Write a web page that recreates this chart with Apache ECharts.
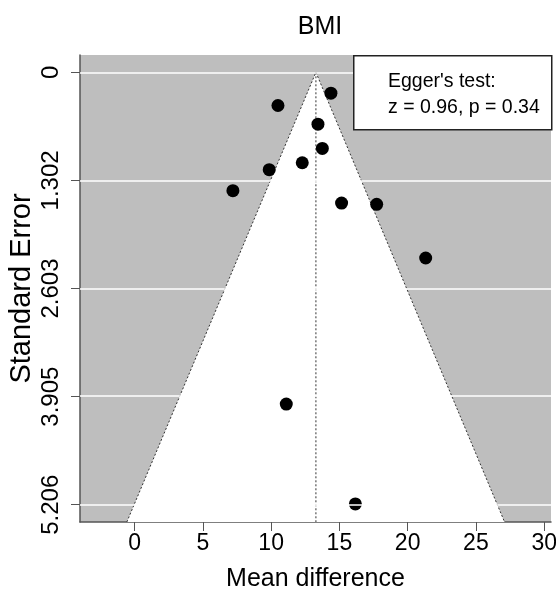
<!DOCTYPE html>
<html>
<head>
<meta charset="utf-8">
<script src="https://cdn.jsdelivr.net/npm/echarts@6/dist/echarts.min.js"></script>
<style>
  html, body { margin: 0; padding: 0; background: #fff; }
  #main { width: 556px; height: 589px; }
</style>
</head>
<body>
<div id="main"></div>
<script>
// study estimates (mean difference) and their standard errors
const meanDiff = [14.38, 10.50, 13.43, 13.75, 12.28, 9.86, 7.20, 15.16, 17.73, 21.32, 11.11, 16.17];
const stdErr = [0.252, 0.400, 0.625, 0.917, 1.089, 1.173, 1.425, 1.575, 1.590, 2.236, 3.994, 5.196];

// pooled estimate and funnel outline (left bottom, apex, right bottom)
const pooled = 13.28;
const funnelX = [-0.57, 13.28, 27.1];
const funnelY = [5.414, 0, 5.414];

// axis ticks
const xTicks = [0, 5, 10, 15, 20, 25, 30];
const yTicks = [0, 1.302, 2.603, 3.905, 5.206];
const yTickLabels = ["0", "1.302", "2.603", "3.905", "5.206"];

const font = "'Liberation Sans', Arial, sans-serif";
const chart = echarts.init(document.getElementById("main"));

const option = {
  animation: false,
  textStyle: { fontFamily: font },
  title: {
    text: "BMI",
    left: 315,
    textAlign: "center",
    top: 10,
    textStyle: { fontSize: 25, fontWeight: "normal", color: "#000", fontFamily: font },
  },
  grid: {
    left: 80,
    top: 55,
    right: 5,
    bottom: 67,
    outerBoundsMode: "none",
    containLabel: false,
    show: true,
    backgroundColor: "#bebebe",
    borderWidth: 0,
  },
  xAxis: {
    type: "value",
    min: -4,
    max: 30.5,
    name: "Mean difference",
    nameLocation: "middle",
    nameGap: 45,
    nameTextStyle: { fontSize: 25, color: "#000", fontFamily: font },
    axisLine: { show: true, onZero: false, lineStyle: { color: "#555", width: 1.5 } },
    axisTick: { show: true, length: 9, customValues: xTicks, lineStyle: { color: "#555" } },
    axisLabel: { customValues: xTicks, fontSize: 23, color: "#000", margin: 10, fontFamily: font },
    splitLine: { show: false },
  },
  yAxis: {
    type: "value",
    inverse: true,
    min: -0.208,
    max: 5.414,
    name: "Standard Error",
    nameLocation: "middle",
    nameRotate: 90,
    nameGap: 44,
    nameMoveOverlap: false,
    nameTextStyle: { fontSize: 29, color: "#000", fontFamily: font },
    axisLine: { show: true, onZero: false, lineStyle: { color: "#555", width: 1.5 } },
    axisTick: { show: true, length: 9, customValues: yTicks, lineStyle: { color: "#555" } },
    axisLabel: {
      customValues: yTicks,
      rotate: 90,
      fontSize: 24,
      color: "#000",
      margin: 17,
      fontFamily: font,
      formatter: (v) => yTickLabels[yTicks.findIndex((t) => Math.abs(t - v) < 1e-6)],
    },
    splitLine: { show: false },
  },
  series: [
    {
      // white reference lines at the tick positions
      type: "line",
      data: [],
      z: 1,
      silent: true,
      markLine: {
        symbol: "none",
        silent: true,
        label: { show: false },
        lineStyle: { color: "#fff", type: "solid", width: 1.5 },
        data: yTicks.map((t) => ({ yAxis: t })),
      },
    },
    {
      // funnel region
      type: "custom",
      z: 2,
      silent: true,
      data: [0],
      renderItem: (params, api) => {
        const pts = funnelX.map((x, i) => api.coord([x, funnelY[i]]));
        const top = api.coord([pooled, 0]);
        const bottom = api.coord([pooled, funnelY[0]]);
        return {
          type: "group",
          children: [
            { type: "polygon", shape: { points: pts }, style: { fill: "#fff", stroke: null } },
            {
              type: "polyline",
              shape: { points: pts },
              style: { fill: null, stroke: "#333", lineWidth: 1, lineDash: [2, 2] },
            },
            {
              type: "line",
              shape: { x1: top[0], y1: top[1], x2: bottom[0], y2: bottom[1] },
              style: { stroke: "#333", lineWidth: 1, lineDash: [2, 2] },
            },
          ],
        };
      },
    },
    {
      type: "scatter",
      z: 3,
      symbolSize: 13,
      itemStyle: { color: "#000", opacity: 1 },
      data: meanDiff.map((x, i) => [x, stdErr[i]]),
    },
  ],
  graphic: [
    {
      type: "rect",
      left: 353,
      top: 55,
      z: 10,
      shape: { width: 198, height: 74 },
      style: { fill: "#fff", stroke: "#222", lineWidth: 1.5 },
    },
    {
      type: "text",
      left: 388,
      top: 72,
      z: 11,
      style: { text: "Egger's test:", fontSize: 19.5, fill: "#000", fontFamily: font },
    },
    {
      type: "text",
      left: 388,
      top: 98,
      z: 11,
      style: { text: "z = 0.96, p = 0.34", fontSize: 19.5, fill: "#000", fontFamily: font },
    },
  ],
};

chart.setOption(option);
</script>
</body>
</html>
